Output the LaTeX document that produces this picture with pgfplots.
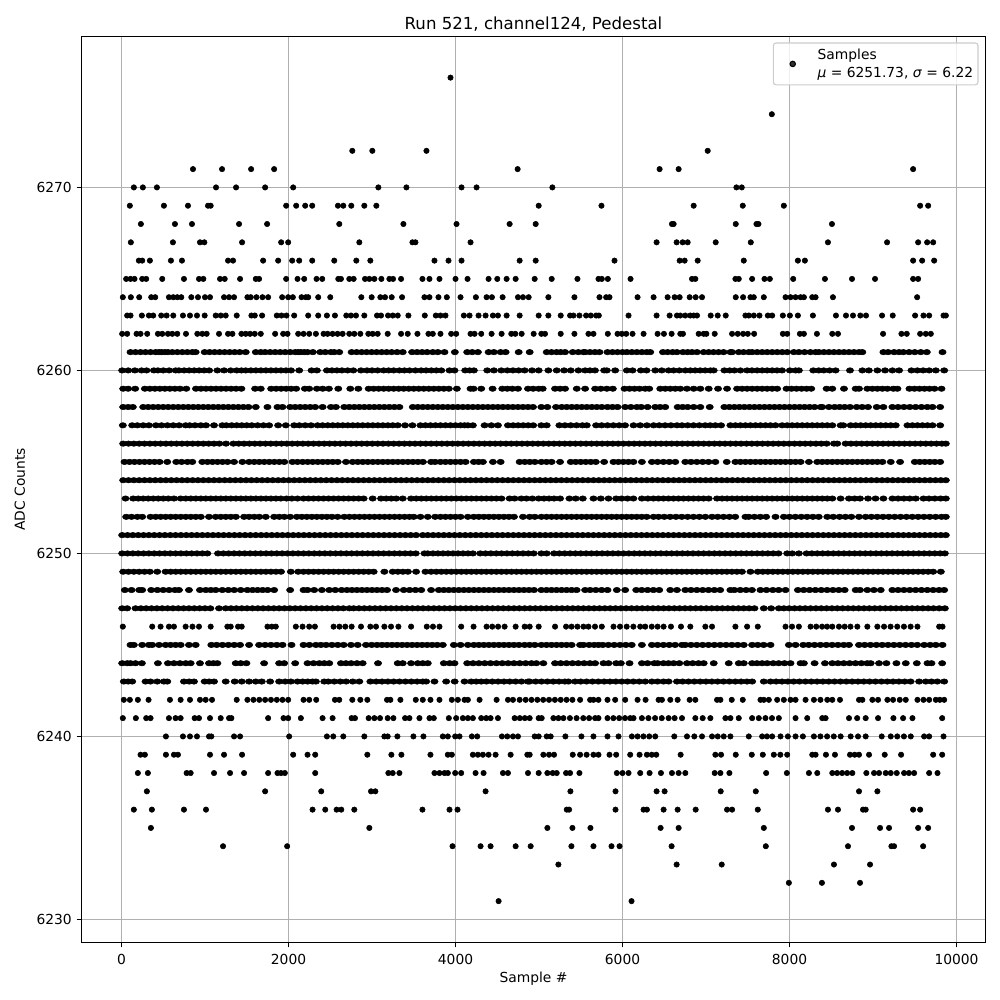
\documentclass[border=0pt]{standalone}
\usepackage{fontspec}
\setmainfont{DejaVu Sans}
\usepackage{pgfplots}
\pgfplotsset{compat=1.18}
\begin{document}
\begin{tikzpicture}
  \path[use as bounding box] (-58.9pt,-41.56pt) rectangle (663.77pt,681.14pt);
  \begin{axis}[
    at={(0pt,0pt)}, anchor=south west,
    scale only axis,
    width=653.33pt,
    height=654.8pt,
    xmin=-479, xmax=10347,
    ymin=6228.74, ymax=6278.25,
    xtick={0,2000,4000,6000,8000,10000},
    ytick={6230,6240,6250,6260,6270},
    scaled ticks=false,
    /pgf/number format/1000 sep={},
    /pgf/number format/assume math mode=true,
    grid=major,
    grid style={color=black!31, line width=0.8pt},
    axis line style={line width=0.8pt},
    tick style={color=black, line width=0.8pt},
    tick align=outside,
    major tick length=3.5pt,
    tick pos=lower,
    ticklabel style={font=\fontsize{10}{12}\selectfont},
    xticklabel style={yshift=-1.4pt},
    label style={font=\fontsize{10}{12}\selectfont},
    xlabel style={yshift=1.4pt},
    ylabel style={yshift=1.5pt},
    xlabel={Sample \#},
    ylabel={ADC Counts},
    title={Run 521, channel124, Pedestal},
    title style={font=\fontsize{12}{14}\selectfont, yshift=-5.8pt},
    legend cell align=left,
    legend image code/.code={
      \path[draw=none] (-12.5pt,0pt) -- (16pt,0pt);
      \draw[#1, only marks, mark repeat=1, mark phase=1] plot coordinates {(0pt,0pt)};
    },
    legend style={at={(0.9923,0.9934)}, anchor=north east, draw=black!20, line width=0.8pt,
      rounded corners=2pt, fill=white, fill opacity=0.8, text opacity=1,
      font=\fontsize{10}{12}\selectfont, inner xsep=1.5pt, inner ysep=1.9pt},
  ]
    % sparse levels, one group per ADC level
    \addplot[only marks, mark=*, mark size=1.95pt, mark options={fill=black, draw=none}] coordinates {
      (3940,6276) (7788,6274)
      (2764,6272)(3004,6272)(3652,6272)(7020,6272)
      (856,6271)(1204,6271)(1552,6271)(1828,6271)(4744,6271)(6444,6271)(6672,6271)(9480,6271)
      (148,6270)(256,6270)(424,6270)(1132,6270)(1372,6270)(1720,6270)(2056,6270)(3076,6270)(3412,6270)(4072,6270)(4252,6270)(5160,6270)(7364,6270)(7428,6270)
      (100,6269)(508,6269)(796,6269)(1036,6269)(1068,6269)(1972,6269)(2092,6269)(2200,6269)(2284,6269)(2592,6269)(2656,6269)(2752,6269)(2908,6269)(3052,6269)(4996,6269)(5748,6269)(6852,6269)(7440,6269)(7932,6269)(9564,6269)(9660,6269)
      (232,6268)(640,6268)(844,6268)(1408,6268)(1744,6268)(2608,6268)(3376,6268)(4012,6268)(4648,6268)(4960,6268)(6592,6268)(6612,6268)(7356,6268)(7604,6268)(7628,6268)(8508,6268)
      (112,6267)(616,6267)(940,6267)(992,6267)(1444,6267)(1912,6267)(1996,6267)(2848,6267)(3484,6267)(3520,6267)(4180,6267)(6408,6267)(6648,6267)(6720,6267)(6780,6267)(7116,6267)(7536,6267)(8460,6267)(9168,6267)(9540,6267)(9648,6267)(9720,6267)
      (208,6266)(248,6266)(340,6266)(592,6266)(724,6266)(1276,6266)(1336,6266)(1696,6266)(1876,6266)(2044,6266)(2128,6266)(2284,6266)(2548,6266)(2812,6266)(2980,6266)(3748,6266)(3916,6266)(4072,6266)(4768,6266)(4960,6266)(5904,6266)(6684,6266)(6744,6266)(6900,6266)(7452,6266)(8100,6266)(8184,6266)(9480,6266)(9588,6266)(9732,6266)
      (56,6265)(108,6265)(156,6265)(248,6265)(296,6265)(488,6265)(748,6265)(928,6265)(980,6265)(1180,6265)(1236,6265)(1420,6265)(1608,6265)(1648,6265)(1972,6265)(2108,6265)(2188,6265)(2336,6265)(2404,6265)(2596,6265)(2628,6265)(2728,6265)(2780,6265)(2916,6265)(2968,6265)(3028,6265)(3112,6265)(3208,6265)(3252,6265)(3348,6265)(3604,6265)(3688,6265)(3808,6265)(4000,6265)(4144,6265)(4396,6265)(4500,6265)(4612,6265)(4720,6265)(4948,6265)(5152,6265)(5460,6265)(5712,6265)(5752,6265)(5824,6265)(6096,6265)(6832,6265)(6872,6265)(7352,6265)(7392,6265)(7552,6265)(7700,6265)(7764,6265)(8044,6265)(8424,6265)(8748,6265)(9024,6265)(9480,6265)(9540,6265)
      (16,6264)(112,6264)(212,6264)(356,6264)(404,6264)(568,6264)(620,6264)(668,6264)(716,6264)(836,6264)(916,6264)(1000,6264)(1060,6264)(1228,6264)(1288,6264)(1348,6264)(1508,6264)(1548,6264)(1616,6264)(1688,6264)(1756,6264)(1924,6264)(1996,6264)(2052,6264)(2156,6264)(2208,6264)(2236,6264)(2356,6264)(2500,6264)(2872,6264)(2996,6264)(3100,6264)(3156,6264)(3236,6264)(3360,6264)(3628,6264)(3688,6264)(3796,6264)(3896,6264)(4060,6264)(4244,6264)(4372,6264)(4436,6264)(4564,6264)(4748,6264)(4808,6264)(4876,6264)(5112,6264)(5424,6264)(5724,6264)(5804,6264)(5844,6264)(6180,6264)(6372,6264)(6540,6264)(6624,6264)(6684,6264)(6804,6264)(6876,6264)(6952,6264)(7356,6264)(7444,6264)(7532,6264)(7572,6264)(7692,6264)(7952,6264)(8012,6264)(8072,6264)(8132,6264)(8172,6264)(8272,6264)(8312,6264)(8520,6264)(9528,6264)
      (68,6263)(108,6263)(244,6263)(328,6263)(380,6263)(476,6263)(540,6263)(620,6263)(736,6263)(820,6263)(904,6263)(996,6263)(1128,6263)(1188,6263)(1248,6263)(1380,6263)(1556,6263)(1596,6263)(1684,6263)(1860,6263)(1916,6263)(1976,6263)(2068,6263)(2236,6263)(2356,6263)(2460,6263)(2556,6263)(2692,6263)(2748,6263)(2808,6263)(2908,6263)(3060,6263)(3108,6263)(3192,6263)(3248,6263)(3308,6263)(3436,6263)(3632,6263)(3764,6263)(3820,6263)(3880,6263)(4100,6263)(4168,6263)(4276,6263)(4360,6263)(4448,6263)(4508,6263)(4612,6263)(4768,6263)(4996,6263)(5112,6263)(5260,6263)(5372,6263)(5412,6263)(5484,6263)(5564,6263)(5620,6263)(5684,6263)(5716,6263)(6072,6263)(6408,6263)(6564,6263)(6652,6263)(6692,6263)(6752,6263)(6812,6263)(6852,6263)(6892,6263)(7056,6263)(7140,6263)(7236,6263)(7472,6263)(7512,6263)(7572,6263)(7640,6263)(7740,6263)(7792,6263)(7920,6263)(8004,6263)(8100,6263)(8280,6263)(8556,6263)(8676,6263)(8760,6263)(8848,6263)(8916,6263)(9108,6263)(9236,6263)(9504,6263)(9604,6263)(9672,6263)(9844,6263)(9872,6263)
      (8,6262)(68,6262)(180,6262)(228,6262)(308,6262)(436,6262)(488,6262)(556,6262)(608,6262)(668,6262)(772,6262)(908,6262)(968,6262)(1020,6262)(1168,6262)(1276,6262)(1328,6262)(1436,6262)(1488,6262)(1540,6262)(1596,6262)(1668,6262)(1840,6262)(1936,6262)(1988,6262)(2116,6262)(2180,6262)(2248,6262)(2328,6262)(2420,6262)(2468,6262)(2528,6262)(2588,6262)(2648,6262)(2728,6262)(2788,6262)(2860,6262)(2956,6262)(3008,6262)(3068,6262)(3188,6262)(3348,6262)(3428,6262)(3544,6262)(3676,6262)(3728,6262)(3820,6262)(3948,6262)(4008,6262)(4180,6262)(4228,6262)(4308,6262)(4432,6262)(4552,6262)(4668,6262)(4716,6262)(4792,6262)(4936,6262)(5028,6262)(5072,6262)(5260,6262)(5424,6262)(5592,6262)(5652,6262)(5824,6262)(5940,6262)(5992,6262)(6044,6262)(6120,6262)(6252,6262)(6420,6262)(6496,6262)(6588,6262)(6692,6262)(6724,6262)(6912,6262)(6972,6262)(7004,6262)(7104,6262)(7312,6262)(7380,6262)(7444,6262)(7500,6262)(7576,6262)(7920,6262)(7972,6262)(8124,6262)(8172,6262)(8328,6262)(8512,6262)(8580,6262)(9120,6262)(9340,6262)(9404,6262)(9564,6262)(9632,6262)(9692,6262)
      (16,6246)(368,6246)(468,6246)(568,6246)(628,6246)(768,6246)(850,6246)(928,6246)(1068,6246)(1268,6246)(1308,6246)(1396,6246)(1440,6246)(1748,6246)(1800,6246)(1848,6246)(2088,6246)(2168,6246)(2248,6246)(2316,6246)(2540,6246)(2610,6246)(2680,6246)(2756,6246)(2868,6246)(2980,6246)(3048,6246)(3148,6246)(3228,6246)(3316,6246)(3468,6246)(3656,6246)(3730,6246)(3808,6246)(4068,6246)(4216,6246)(4372,6246)(4440,6246)(4510,6246)(4588,6246)(4720,6246)(4828,6246)(4888,6246)(4996,6246)(5192,6246)(5324,6246)(5390,6246)(5460,6246)(5532,6246)(5592,6246)(5670,6246)(5752,6246)(5892,6246)(5970,6246)(6050,6246)(6130,6246)(6212,6246)(6272,6246)(6350,6246)(6420,6246)(6492,6246)(6580,6246)(6700,6246)(6812,6246)(6992,6246)(7072,6246)(7352,6246)(7492,6246)(7620,6246)(7952,6246)(8030,6246)(8112,6246)(8252,6246)(8320,6246)(8390,6246)(8450,6246)(8512,6246)(8592,6246)(8660,6246)(8730,6246)(8812,6246)(8932,6246)(9052,6246)(9132,6246)(9210,6246)(9290,6246)(9370,6246)(9450,6246)(9532,6246)(9792,6246)(9832,6246)
      (28,6242)(100,6242)(196,6242)(324,6242)(580,6242)(708,6242)(820,6242)(940,6242)(1008,6242)(1084,6242)(1380,6242)(1508,6242)(1580,6242)(1650,6242)(1720,6242)(1790,6242)(1860,6242)(1928,6242)(1996,6242)(2180,6242)(2248,6242)(2332,6242)(2556,6242)(2608,6242)(2764,6242)(2860,6242)(2944,6242)(3180,6242)(3220,6242)(3340,6242)(3524,6242)(3608,6242)(3700,6242)(3808,6242)(3956,6242)(4028,6242)(4108,6242)(4148,6242)(4288,6242)(4492,6242)(4628,6242)(4688,6242)(4768,6242)(4840,6242)(4910,6242)(4980,6242)(5050,6242)(5120,6242)(5190,6242)(5260,6242)(5330,6242)(5400,6242)(5492,6242)(5612,6242)(5652,6242)(5712,6242)(5820,6242)(5912,6242)(6032,6242)(6180,6242)(6276,6242)(6432,6242)(6472,6242)(6572,6242)(6660,6242)(6804,6242)(6872,6242)(7132,6242)(7172,6242)(7308,6242)(7440,6242)(7652,6242)(7692,6242)(7752,6242)(7852,6242)(7932,6242)(8012,6242)(8072,6242)(8192,6242)(8292,6242)(8370,6242)(8452,6242)(8512,6242)(8604,6242)(8832,6242)(8872,6242)(8992,6242)(9060,6242)(9172,6242)(9240,6242)(9320,6242)(9392,6242)(9532,6242)(9604,6242)(9672,6242)(9752,6242)(9800,6242)(9852,6242)
      (16,6241)(172,6241)(296,6241)(348,6241)(568,6241)(648,6241)(708,6241)(876,6241)(928,6241)(1060,6241)(1188,6241)(1288,6241)(1316,6241)(1756,6241)(1940,6241)(1996,6241)(2148,6241)(2408,6241)(2528,6241)(2756,6241)(2796,6241)(2960,6241)(3028,6241)(3096,6241)(3188,6241)(3256,6241)(3396,6241)(3448,6241)(3568,6241)(3688,6241)(3740,6241)(3920,6241)(4008,6241)(4088,6241)(4148,6241)(4208,6241)(4308,6241)(4368,6241)(4420,6241)(4508,6241)(4708,6241)(4770,6241)(4830,6241)(4888,6241)(4996,6241)(5032,6241)(5172,6241)(5232,6241)(5292,6241)(5370,6241)(5450,6241)(5530,6241)(5600,6241)(5672,6241)(5712,6241)(5820,6241)(5890,6241)(5960,6241)(6030,6241)(6092,6241)(6132,6241)(6232,6241)(6310,6241)(6390,6241)(6470,6241)(6552,6241)(6624,6241)(6712,6241)(6872,6241)(6960,6241)(7052,6241)(7232,6241)(7292,6241)(7392,6241)(7552,6241)(7632,6241)(7712,6241)(7790,6241)(7872,6241)(8072,6241)(8212,6241)(8392,6241)(8432,6241)(8712,6241)(8810,6241)(8912,6241)(9060,6241)(9244,6241)(9360,6241)(9472,6241)(9828,6241)
      (532,6240)(736,6240)(820,6240)(904,6240)(1048,6240)(1076,6240)(1348,6240)(1420,6240)(2008,6240)(2460,6240)(2536,6240)(2656,6240)(2908,6240)(3148,6240)(3188,6240)(3304,6240)(3496,6240)(3616,6240)(3848,6240)(3908,6240)(3996,6240)(4048,6240)(4196,6240)(4260,6240)(4556,6240)(4620,6240)(4688,6240)(4748,6240)(4948,6240)(4996,6240)(5092,6240)(5140,6240)(5316,6240)(5508,6240)(5652,6240)(5820,6240)(5952,6240)(6112,6240)(6180,6240)(6250,6240)(6320,6240)(6392,6240)(6620,6240)(6772,6240)(6860,6240)(6952,6240)(7072,6240)(7140,6240)(7212,6240)(7292,6240)(7512,6240)(7672,6240)(7730,6240)(7792,6240)(7892,6240)(7980,6240)(8072,6240)(8160,6240)(8292,6240)(8370,6240)(8450,6240)(8530,6240)(8612,6240)(8732,6240)(8820,6240)(8912,6240)(9104,6240)(9212,6240)(9290,6240)(9370,6240)(9452,6240)(9612,6240)(9672,6240)(9844,6240)
      (228,6239)(280,6239)(532,6239)(628,6239)(676,6239)(1060,6239)(1228,6239)(1444,6239)(2056,6239)(2228,6239)(2320,6239)(2944,6239)(3232,6239)(3352,6239)(3700,6239)(3908,6239)(3956,6239)(4208,6239)(4268,6239)(4328,6239)(4396,6239)(4480,6239)(4660,6239)(4860,6239)(4888,6239)(5052,6239)(5120,6239)(5180,6239)(5404,6239)(5492,6239)(5570,6239)(5652,6239)(5712,6239)(5844,6239)(5924,6239)(6092,6239)(6204,6239)(6292,6239)(6350,6239)(6404,6239)(6696,6239)(7112,6239)(7180,6239)(7356,6239)(7548,6239)(7680,6239)(7812,6239)(7890,6239)(7972,6239)(8272,6239)(8312,6239)(8436,6239)(8544,6239)(8724,6239)(8780,6239)(8832,6239)(8952,6239)(9140,6239)(9336,6239)(9720,6239)(9828,6239)
      (196,6238)(316,6238)(780,6238)(828,6238)(1108,6238)(1300,6238)(1468,6238)(1756,6238)(1868,6238)(1910,6238)(1956,6238)(2320,6238)(3196,6238)(3248,6238)(3328,6238)(3748,6238)(3808,6238)(3868,6238)(3908,6238)(3996,6238)(4068,6238)(4240,6238)(4336,6238)(4568,6238)(4628,6238)(4868,6238)(4996,6238)(5100,6238)(5164,6238)(5212,6238)(5324,6238)(5372,6238)(5484,6238)(5932,6238)(6000,6238)(6072,6238)(6212,6238)(6324,6238)(6460,6238)(6592,6238)(6672,6238)(6752,6238)(7104,6238)(7172,6238)(7280,6238)(7720,6238)(7968,6238)(8232,6238)(8332,6238)(8512,6238)(8570,6238)(8630,6238)(8690,6238)(8752,6238)(8920,6238)(9012,6238)(9072,6238)(9152,6238)(9212,6238)(9284,6238)(9372,6238)(9430,6238)(9492,6238)(9672,6238)(9772,6238)
      (304,6237)(1720,6237)(2392,6237)(2988,6237)(3040,6237)(4360,6237)(5376,6237)(5916,6237)(6408,6237)(6504,6237)(7176,6237)(7596,6237)(8832,6237)(9052,6237)
      (148,6236)(364,6236)(748,6236)(1012,6236)(2288,6236)(2440,6236)(2576,6236)(2632,6236)(2788,6236)(3604,6236)(3928,6236)(4024,6236)(5332,6236)(5360,6236)(5916,6236)(6252,6236)(6292,6236)(6492,6236)(6660,6236)(6876,6236)(7252,6236)(7312,6236)(7620,6236)(8460,6236)(8580,6236)(8880,6236)(8912,6236)(9480,6236)(9564,6236)
      (352,6235)(2968,6235)(5100,6235)(5400,6235)(5616,6235)(6456,6235)(6672,6235)(7692,6235)(8748,6235)(9084,6235)(9192,6235)(9540,6235)(9660,6235)
      (1216,6234)(1984,6234)(3964,6234)(4300,6234)(4420,6234)(4720,6234)(4900,6234)(5388,6234)(5652,6234)(5868,6234)(5964,6234)(6588,6234)(7716,6234)(8700,6234)(9220,6234)(9252,6234)(9600,6234)
      (5232,6233)(6648,6233)(7188,6233)(8532,6233)(8964,6233)
      (7992,6232)(8388,6232)(8844,6232)
      (4516,6231)(6108,6231)
    };
    \addlegendentry{\begin{tabular}{@{}l@{}}Samples\\[0.6pt]\textit{μ} = 6251.73, \textit{σ} = 6.22\\[-3.5pt]\rule{0pt}{12.3pt}\end{tabular}}
    % dense levels, the dots run together into bars here
    \addplot[forget plot, only marks, mark=*, mark size=1.95pt, mark options={fill=black, draw=none, xscale=1.35}] coordinates {
      (108,6261)(168,6261)(228,6261)(288,6261)(348,6261)(408,6261)(448,6261)(480,6261)(520,6261)(556,6261)(608,6261)(668,6261)(728,6261)(788,6261)(848,6261)(888,6261)(996,6261)(1056,6261)(1116,6261)(1176,6261)(1236,6261)(1296,6261)(1356,6261)(1416,6261)(1488,6261)(1608,6261)(1668,6261)(1720,6261)(1780,6261)(1840,6261)(1900,6261)(1960,6261)(2020,6261)(2080,6261)(2116,6261)(2148,6261)(2188,6261)(2228,6261)(2292,6261)(2380,6261)(2440,6261)(2508,6261)(2548,6261)(2608,6261)(2756,6261)(2816,6261)(2876,6261)(2936,6261)(2996,6261)(3056,6261)(3116,6261)(3176,6261)(3236,6261)(3300,6261)(3368,6261)(3480,6261)(3540,6261)(3600,6261)(3660,6261)(3728,6261)(3788,6261)(3868,6261)(3992,6261)(4140,6261)(4200,6261)(4268,6261)(4396,6261)(4460,6261)(4540,6261)(4600,6261)(4756,6261)(4888,6261)(5092,6261)(5150,6261)(5210,6261)(5260,6261)(5312,6261)(5404,6261)(5470,6261)(5532,6261)(5552,6261)(5610,6261)(5670,6261)(5724,6261)(5820,6261)(5880,6261)(5940,6261)(6000,6261)(6052,6261)(6112,6261)(6172,6261)(6232,6261)(6290,6261)(6332,6261)(6484,6261)(6540,6261)(6600,6261)(6652,6261)(6724,6261)(6780,6261)(6832,6261)(6892,6261)(6972,6261)(7032,6261)(7090,6261)(7150,6261)(7210,6261)(7292,6261)(7312,6261)(7392,6261)(7450,6261)(7512,6261)(7552,6261)(7612,6261)(7672,6261)(7732,6261)(7792,6261)(7852,6261)(7912,6261)(7972,6261)(8052,6261)(8112,6261)(8180,6261)(8250,6261)(8312,6261)(8352,6261)(8412,6261)(8472,6261)(8532,6261)(8592,6261)(8652,6261)(8712,6261)(8772,6261)(8832,6261)(8872,6261)(9124,6261)(9180,6261)(9252,6261)(9312,6261)(9364,6261)(9432,6261)(9500,6261)(9572,6261)(9644,6261)(9832,6261)
      (8,6260)(80,6260)(160,6260)(240,6260)(300,6260)(388,6260)(436,6260)(500,6260)(570,6260)(648,6260)(688,6260)(750,6260)(810,6260)(870,6260)(930,6260)(990,6260)(1050,6260)(1148,6260)(1228,6260)(1308,6260)(1380,6260)(1436,6260)(1488,6260)(1550,6260)(1610,6260)(1670,6260)(1730,6260)(1790,6260)(1850,6260)(1910,6260)(1970,6260)(2030,6260)(2128,6260)(2276,6260)(2340,6260)(2460,6260)(2520,6260)(2580,6260)(2640,6260)(2708,6260)(2776,6260)(2868,6260)(2940,6260)(3000,6260)(3068,6260)(3140,6260)(3200,6260)(3260,6260)(3328,6260)(3388,6260)(3450,6260)(3520,6260)(3588,6260)(3648,6260)(3710,6260)(3770,6260)(3830,6260)(3928,6260)(3988,6260)(4116,6260)(4170,6260)(4220,6260)(4380,6260)(4460,6260)(4548,6260)(4620,6260)(4688,6260)(4756,6260)(4828,6260)(4916,6260)(4996,6260)(5112,6260)(5212,6260)(5300,6260)(5380,6260)(5472,6260)(5552,6260)(5610,6260)(5670,6260)(5780,6260)(5812,6260)(5912,6260)(6052,6260)(6120,6260)(6220,6260)(6288,6260)(6392,6260)(6470,6260)(6552,6260)(6612,6260)(6680,6260)(6752,6260)(6812,6260)(6870,6260)(6930,6260)(6990,6260)(7052,6260)(7092,6260)(7220,6260)(7284,6260)(7340,6260)(7412,6260)(7492,6260)(7550,6260)(7612,6260)(7672,6260)(7732,6260)(7792,6260)(7850,6260)(7910,6260)(8004,6260)(8072,6260)(8112,6260)(8284,6260)(8350,6260)(8410,6260)(8480,6260)(8552,6260)(8724,6260)(8872,6260)(8950,6260)(9052,6260)(9144,6260)(9232,6260)(9312,6260)(9460,6260)(9530,6260)(9600,6260)(9672,6260)(9752,6260)(9852,6260)
      (20,6259)(80,6259)(164,6259)(280,6259)(340,6259)(400,6259)(460,6259)(520,6259)(580,6259)(640,6259)(700,6259)(776,6259)(892,6259)(952,6259)(1012,6259)(1072,6259)(1132,6259)(1192,6259)(1252,6259)(1312,6259)(1372,6259)(1436,6259)(1600,6259)(1668,6259)(1792,6259)(1852,6259)(1912,6259)(1972,6259)(2032,6259)(2092,6259)(2196,6259)(2248,6259)(2340,6259)(2410,6259)(2484,6259)(2596,6259)(2740,6259)(2836,6259)(2960,6259)(3020,6259)(3080,6259)(3140,6259)(3200,6259)(3260,6259)(3320,6259)(3380,6259)(3440,6259)(3500,6259)(3560,6259)(3620,6259)(3680,6259)(3740,6259)(3800,6259)(3860,6259)(3920,6259)(4016,6259)(4180,6259)(4216,6259)(4308,6259)(4444,6259)(4560,6259)(4620,6259)(4680,6259)(4748,6259)(4868,6259)(4930,6259)(4996,6259)(5044,6259)(5192,6259)(5252,6259)(5312,6259)(5452,6259)(5552,6259)(5672,6259)(5740,6259)(5812,6259)(5884,6259)(6024,6259)(6084,6259)(6144,6259)(6204,6259)(6272,6259)(6320,6259)(6452,6259)(6512,6259)(6572,6259)(6632,6259)(6692,6259)(6772,6259)(6852,6259)(6932,6259)(7032,6259)(7144,6259)(7252,6259)(7372,6259)(7432,6259)(7492,6259)(7552,6259)(7612,6259)(7672,6259)(7732,6259)(7792,6259)(7852,6259)(7964,6259)(8024,6259)(8084,6259)(8144,6259)(8204,6259)(8260,6259)(8444,6259)(8512,6259)(8652,6259)(8792,6259)(8832,6259)(8932,6259)(8992,6259)(9052,6259)(9112,6259)(9172,6259)(9244,6259)(9292,6259)(9436,6259)(9496,6259)(9556,6259)(9616,6259)(9676,6259)(9736,6259)(9820,6259)
      (20,6258)(80,6258)(136,6258)(260,6258)(320,6258)(380,6258)(440,6258)(500,6258)(560,6258)(620,6258)(680,6258)(740,6258)(800,6258)(860,6258)(920,6258)(980,6258)(1040,6258)(1100,6258)(1160,6258)(1220,6258)(1280,6258)(1340,6258)(1400,6258)(1460,6258)(1520,6258)(1608,6258)(1748,6258)(1868,6258)(1928,6258)(2020,6258)(2080,6258)(2140,6258)(2200,6258)(2260,6258)(2320,6258)(2408,6258)(2508,6258)(2568,6258)(2668,6258)(2728,6258)(2788,6258)(2848,6258)(2908,6258)(2968,6258)(3028,6258)(3088,6258)(3148,6258)(3208,6258)(3268,6258)(3328,6258)(3488,6258)(3548,6258)(3608,6258)(3668,6258)(3728,6258)(3788,6258)(3848,6258)(3908,6258)(3968,6258)(4028,6258)(4088,6258)(4148,6258)(4208,6258)(4268,6258)(4328,6258)(4388,6258)(4448,6258)(4508,6258)(4568,6258)(4628,6258)(4688,6258)(4748,6258)(4808,6258)(4868,6258)(4928,6258)(5028,6258)(5100,6258)(5204,6258)(5272,6258)(5332,6258)(5392,6258)(5452,6258)(5512,6258)(5572,6258)(5632,6258)(5692,6258)(5752,6258)(5820,6258)(5880,6258)(5940,6258)(6032,6258)(6100,6258)(6172,6258)(6224,6258)(6300,6258)(6392,6258)(6450,6258)(6512,6258)(6660,6258)(6720,6258)(6780,6258)(6852,6258)(6932,6258)(7044,6258)(7220,6258)(7280,6258)(7340,6258)(7400,6258)(7460,6258)(7520,6258)(7580,6258)(7640,6258)(7700,6258)(7760,6258)(7820,6258)(7880,6258)(7940,6258)(8000,6258)(8060,6258)(8120,6258)(8180,6258)(8240,6258)(8300,6258)(8372,6258)(8392,6258)(8472,6258)(8540,6258)(8600,6258)(8660,6258)(8724,6258)(8804,6258)(8870,6258)(8940,6258)(9044,6258)(9124,6258)(9232,6258)(9300,6258)(9370,6258)(9440,6258)(9510,6258)(9580,6258)(9650,6258)(9712,6258)(9804,6258)
      (16,6257)(128,6257)(190,6257)(260,6257)(328,6257)(412,6257)(480,6257)(550,6257)(620,6257)(690,6257)(768,6257)(816,6257)(880,6257)(950,6257)(1012,6257)(1108,6257)(1208,6257)(1256,6257)(1320,6257)(1380,6257)(1440,6257)(1500,6257)(1560,6257)(1630,6257)(1700,6257)(1768,6257)(1876,6257)(1968,6257)(2068,6257)(2130,6257)(2200,6257)(2270,6257)(2348,6257)(2408,6257)(2470,6257)(2530,6257)(2590,6257)(2650,6257)(2710,6257)(2770,6257)(2828,6257)(2888,6257)(2950,6257)(3010,6257)(3070,6257)(3130,6257)(3190,6257)(3248,6257)(3308,6257)(3396,6257)(3484,6257)(3580,6257)(3640,6257)(3700,6257)(3760,6257)(3820,6257)(3880,6257)(3940,6257)(4000,6257)(4060,6257)(4108,6257)(4148,6257)(4208,6257)(4348,6257)(4430,6257)(4508,6257)(4628,6257)(4690,6257)(4750,6257)(4810,6257)(4870,6257)(4930,6257)(5028,6257)(5092,6257)(5244,6257)(5310,6257)(5380,6257)(5450,6257)(5520,6257)(5572,6257)(5684,6257)(5750,6257)(5820,6257)(5890,6257)(5960,6257)(6030,6257)(6132,6257)(6212,6257)(6292,6257)(6372,6257)(6440,6257)(6510,6257)(6580,6257)(6652,6257)(6712,6257)(6780,6257)(6850,6257)(6920,6257)(6990,6257)(7050,6257)(7112,6257)(7180,6257)(7292,6257)(7352,6257)(7412,6257)(7472,6257)(7532,6257)(7592,6257)(7652,6257)(7712,6257)(7772,6257)(7832,6257)(7912,6257)(7972,6257)(8032,6257)(8092,6257)(8152,6257)(8212,6257)(8272,6257)(8332,6257)(8392,6257)(8452,6257)(8512,6257)(8612,6257)(8644,6257)(8732,6257)(8792,6257)(8852,6257)(8912,6257)(8972,6257)(9032,6257)(9092,6257)(9152,6257)(9212,6257)(9272,6257)(9412,6257)(9472,6257)(9532,6257)(9592,6257)(9652,6257)(9712,6257)(9804,6257)
      (20,6256)(84,6256)(148,6256)(212,6256)(276,6256)(340,6256)(404,6256)(468,6256)(532,6256)(596,6256)(660,6256)(724,6256)(788,6256)(852,6256)(916,6256)(980,6256)(1044,6256)(1108,6256)(1172,6256)(1252,6256)(1340,6256)(1404,6256)(1468,6256)(1532,6256)(1596,6256)(1660,6256)(1724,6256)(1788,6256)(1852,6256)(1916,6256)(1980,6256)(2044,6256)(2108,6256)(2172,6256)(2236,6256)(2300,6256)(2364,6256)(2428,6256)(2492,6256)(2556,6256)(2620,6256)(2684,6256)(2748,6256)(2812,6256)(2876,6256)(2940,6256)(3004,6256)(3068,6256)(3132,6256)(3196,6256)(3260,6256)(3324,6256)(3388,6256)(3452,6256)(3516,6256)(3580,6256)(3644,6256)(3708,6256)(3772,6256)(3836,6256)(3900,6256)(3964,6256)(4028,6256)(4092,6256)(4156,6256)(4220,6256)(4284,6256)(4348,6256)(4412,6256)(4476,6256)(4540,6256)(4604,6256)(4668,6256)(4732,6256)(4796,6256)(4860,6256)(4924,6256)(4988,6256)(5052,6256)(5116,6256)(5180,6256)(5244,6256)(5308,6256)(5372,6256)(5436,6256)(5500,6256)(5564,6256)(5628,6256)(5692,6256)(5756,6256)(5820,6256)(5884,6256)(5948,6256)(6012,6256)(6076,6256)(6140,6256)(6204,6256)(6268,6256)(6332,6256)(6396,6256)(6460,6256)(6524,6256)(6588,6256)(6652,6256)(6716,6256)(6780,6256)(6844,6256)(6908,6256)(6972,6256)(7036,6256)(7100,6256)(7164,6256)(7228,6256)(7292,6256)(7356,6256)(7420,6256)(7484,6256)(7548,6256)(7612,6256)(7676,6256)(7740,6256)(7804,6256)(7868,6256)(7932,6256)(7996,6256)(8060,6256)(8124,6256)(8188,6256)(8252,6256)(8316,6256)(8380,6256)(8444,6256)(8532,6256)(8572,6256)(8672,6256)(8736,6256)(8800,6256)(8864,6256)(8928,6256)(8992,6256)(9056,6256)(9120,6256)(9184,6256)(9248,6256)(9312,6256)(9376,6256)(9440,6256)(9504,6256)(9568,6256)(9632,6256)(9696,6256)(9760,6256)(9824,6256)(9872,6256)
      (36,6255)(96,6255)(156,6255)(216,6255)(276,6255)(336,6255)(396,6255)(456,6255)(548,6255)(656,6255)(720,6255)(790,6255)(848,6255)(968,6255)(1030,6255)(1090,6255)(1150,6255)(1210,6255)(1270,6255)(1348,6255)(1448,6255)(1528,6255)(1590,6255)(1650,6255)(1710,6255)(1770,6255)(1830,6255)(1890,6255)(1950,6255)(2048,6255)(2108,6255)(2170,6255)(2230,6255)(2290,6255)(2350,6255)(2410,6255)(2470,6255)(2530,6255)(2590,6255)(2688,6255)(2768,6255)(2830,6255)(2890,6255)(2950,6255)(3010,6255)(3070,6255)(3130,6255)(3190,6255)(3250,6255)(3310,6255)(3370,6255)(3430,6255)(3490,6255)(3550,6255)(3610,6255)(3708,6255)(3756,6255)(3820,6255)(3880,6255)(3940,6255)(4000,6255)(4060,6255)(4120,6255)(4220,6255)(4276,6255)(4328,6255)(4448,6255)(4540,6255)(4768,6255)(4830,6255)(4890,6255)(4950,6255)(5028,6255)(5090,6255)(5150,6255)(5252,6255)(5380,6255)(5440,6255)(5500,6255)(5560,6255)(5620,6255)(5680,6255)(5780,6255)(5892,6255)(5950,6255)(6010,6255)(6070,6255)(6130,6255)(6232,6255)(6352,6255)(6420,6255)(6490,6255)(6560,6255)(6632,6255)(6752,6255)(6820,6255)(6890,6255)(6960,6255)(7030,6255)(7112,6255)(7248,6255)(7352,6255)(7412,6255)(7472,6255)(7532,6255)(7592,6255)(7652,6255)(7712,6255)(7772,6255)(7832,6255)(7892,6255)(7952,6255)(8012,6255)(8072,6255)(8132,6255)(8232,6255)(8332,6255)(8392,6255)(8452,6255)(8512,6255)(8572,6255)(8632,6255)(8692,6255)(8752,6255)(8812,6255)(8872,6255)(8932,6255)(8992,6255)(9052,6255)(9112,6255)(9212,6255)(9324,6255)(9500,6255)(9560,6255)(9620,6255)(9680,6255)(9740,6255)(9804,6255)
      (20,6254)(84,6254)(148,6254)(212,6254)(276,6254)(340,6254)(404,6254)(468,6254)(532,6254)(596,6254)(660,6254)(724,6254)(788,6254)(852,6254)(916,6254)(980,6254)(1044,6254)(1108,6254)(1172,6254)(1236,6254)(1300,6254)(1364,6254)(1428,6254)(1492,6254)(1556,6254)(1620,6254)(1684,6254)(1748,6254)(1812,6254)(1876,6254)(1940,6254)(2004,6254)(2068,6254)(2132,6254)(2196,6254)(2260,6254)(2324,6254)(2388,6254)(2452,6254)(2516,6254)(2580,6254)(2644,6254)(2708,6254)(2772,6254)(2836,6254)(2900,6254)(2964,6254)(3028,6254)(3092,6254)(3156,6254)(3220,6254)(3284,6254)(3348,6254)(3412,6254)(3476,6254)(3540,6254)(3604,6254)(3668,6254)(3732,6254)(3796,6254)(3860,6254)(3924,6254)(3988,6254)(4052,6254)(4116,6254)(4180,6254)(4244,6254)(4308,6254)(4372,6254)(4436,6254)(4500,6254)(4564,6254)(4628,6254)(4692,6254)(4756,6254)(4820,6254)(4884,6254)(4948,6254)(5012,6254)(5076,6254)(5140,6254)(5204,6254)(5268,6254)(5332,6254)(5396,6254)(5460,6254)(5524,6254)(5588,6254)(5652,6254)(5716,6254)(5780,6254)(5844,6254)(5908,6254)(5972,6254)(6036,6254)(6100,6254)(6164,6254)(6228,6254)(6292,6254)(6356,6254)(6420,6254)(6484,6254)(6548,6254)(6612,6254)(6676,6254)(6740,6254)(6804,6254)(6868,6254)(6932,6254)(6996,6254)(7060,6254)(7124,6254)(7188,6254)(7252,6254)(7316,6254)(7380,6254)(7444,6254)(7508,6254)(7572,6254)(7636,6254)(7700,6254)(7764,6254)(7828,6254)(7892,6254)(7956,6254)(8020,6254)(8084,6254)(8148,6254)(8212,6254)(8276,6254)(8340,6254)(8404,6254)(8468,6254)(8532,6254)(8596,6254)(8660,6254)(8724,6254)(8788,6254)(8852,6254)(8916,6254)(8980,6254)(9044,6254)(9108,6254)(9172,6254)(9236,6254)(9300,6254)(9364,6254)(9428,6254)(9492,6254)(9556,6254)(9620,6254)(9684,6254)(9748,6254)(9812,6254)(9872,6254)
      (48,6253)(140,6253)(200,6253)(260,6253)(320,6253)(380,6253)(440,6253)(500,6253)(560,6253)(628,6253)(708,6253)(770,6253)(830,6253)(890,6253)(950,6253)(1010,6253)(1070,6253)(1130,6253)(1190,6253)(1250,6253)(1310,6253)(1370,6253)(1430,6253)(1490,6253)(1550,6253)(1610,6253)(1670,6253)(1730,6253)(1790,6253)(1850,6253)(1908,6253)(1976,6253)(2040,6253)(2108,6253)(2180,6253)(2240,6253)(2300,6253)(2360,6253)(2420,6253)(2480,6253)(2540,6253)(2600,6253)(2660,6253)(2720,6253)(2780,6253)(2840,6253)(2900,6253)(3008,6253)(3108,6253)(3170,6253)(3230,6253)(3290,6253)(3368,6253)(3468,6253)(3530,6253)(3590,6253)(3650,6253)(3710,6253)(3770,6253)(3830,6253)(3890,6253)(3950,6253)(4010,6253)(4070,6253)(4130,6253)(4190,6253)(4250,6253)(4310,6253)(4370,6253)(4430,6253)(4490,6253)(4550,6253)(4648,6253)(4708,6253)(4788,6253)(4850,6253)(4920,6253)(4996,6253)(5060,6253)(5120,6253)(5180,6253)(5252,6253)(5364,6253)(5440,6253)(5524,6253)(5652,6253)(5740,6253)(5832,6253)(5924,6253)(5990,6253)(6060,6253)(6130,6253)(6232,6253)(6304,6253)(6370,6253)(6430,6253)(6490,6253)(6550,6253)(6610,6253)(6670,6253)(6730,6253)(6790,6253)(6850,6253)(6910,6253)(6970,6253)(7032,6253)(7132,6253)(7192,6253)(7252,6253)(7312,6253)(7372,6253)(7432,6253)(7492,6253)(7552,6253)(7612,6253)(7672,6253)(7732,6253)(7792,6253)(7852,6253)(7912,6253)(7972,6253)(8032,6253)(8092,6253)(8152,6253)(8212,6253)(8272,6253)(8332,6253)(8392,6253)(8452,6253)(8512,6253)(8612,6253)(8712,6253)(8780,6253)(8844,6253)(8940,6253)(9030,6253)(9124,6253)(9232,6253)(9300,6253)(9370,6253)(9440,6253)(9512,6253)(9604,6253)(9670,6253)(9740,6253)(9810,6253)(9872,6253)
      (56,6252)(120,6252)(190,6252)(248,6252)(348,6252)(410,6252)(470,6252)(530,6252)(590,6252)(650,6252)(710,6252)(770,6252)(830,6252)(890,6252)(950,6252)(1048,6252)(1128,6252)(1190,6252)(1250,6252)(1310,6252)(1370,6252)(1468,6252)(1528,6252)(1590,6252)(1650,6252)(1728,6252)(1828,6252)(1890,6252)(1950,6252)(2020,6252)(2100,6252)(2160,6252)(2220,6252)(2280,6252)(2340,6252)(2400,6252)(2460,6252)(2520,6252)(2588,6252)(2668,6252)(2730,6252)(2790,6252)(2850,6252)(2910,6252)(2970,6252)(3030,6252)(3090,6252)(3150,6252)(3210,6252)(3270,6252)(3330,6252)(3390,6252)(3448,6252)(3500,6252)(3580,6252)(3668,6252)(3756,6252)(3820,6252)(3880,6252)(3940,6252)(4000,6252)(4060,6252)(4148,6252)(4220,6252)(4280,6252)(4340,6252)(4400,6252)(4460,6252)(4520,6252)(4580,6252)(4640,6252)(4700,6252)(4808,6252)(4888,6252)(4950,6252)(5028,6252)(5090,6252)(5150,6252)(5210,6252)(5270,6252)(5330,6252)(5390,6252)(5450,6252)(5510,6252)(5570,6252)(5630,6252)(5690,6252)(5750,6252)(5810,6252)(5870,6252)(5930,6252)(5990,6252)(6050,6252)(6110,6252)(6170,6252)(6230,6252)(6290,6252)(6372,6252)(6432,6252)(6500,6252)(6570,6252)(6640,6252)(6710,6252)(6780,6252)(6850,6252)(6920,6252)(6992,6252)(7072,6252)(7140,6252)(7210,6252)(7280,6252)(7350,6252)(7472,6252)(7512,6252)(7580,6252)(7650,6252)(7720,6252)(7832,6252)(7932,6252)(8000,6252)(8070,6252)(8140,6252)(8210,6252)(8280,6252)(8350,6252)(8452,6252)(8524,6252)(8600,6252)(8670,6252)(8740,6252)(8832,6252)(8912,6252)(8980,6252)(9050,6252)(9120,6252)(9190,6252)(9260,6252)(9330,6252)(9400,6252)(9470,6252)(9540,6252)(9610,6252)(9680,6252)(9750,6252)(9820,6252)(9872,6252)
      (8,6251)(72,6251)(136,6251)(200,6251)(264,6251)(328,6251)(392,6251)(456,6251)(520,6251)(584,6251)(648,6251)(712,6251)(776,6251)(840,6251)(904,6251)(968,6251)(1032,6251)(1096,6251)(1160,6251)(1224,6251)(1288,6251)(1352,6251)(1416,6251)(1480,6251)(1544,6251)(1608,6251)(1672,6251)(1736,6251)(1800,6251)(1864,6251)(1928,6251)(1992,6251)(2056,6251)(2120,6251)(2184,6251)(2248,6251)(2312,6251)(2376,6251)(2440,6251)(2504,6251)(2568,6251)(2632,6251)(2696,6251)(2760,6251)(2824,6251)(2888,6251)(2952,6251)(3016,6251)(3080,6251)(3144,6251)(3208,6251)(3272,6251)(3336,6251)(3400,6251)(3464,6251)(3528,6251)(3608,6251)(3668,6251)(3732,6251)(3796,6251)(3860,6251)(3924,6251)(3988,6251)(4052,6251)(4116,6251)(4180,6251)(4244,6251)(4308,6251)(4372,6251)(4436,6251)(4500,6251)(4564,6251)(4628,6251)(4692,6251)(4756,6251)(4820,6251)(4884,6251)(4948,6251)(5012,6251)(5076,6251)(5140,6251)(5204,6251)(5268,6251)(5332,6251)(5396,6251)(5460,6251)(5524,6251)(5588,6251)(5652,6251)(5716,6251)(5780,6251)(5844,6251)(5908,6251)(5972,6251)(6036,6251)(6100,6251)(6164,6251)(6228,6251)(6292,6251)(6356,6251)(6420,6251)(6484,6251)(6548,6251)(6612,6251)(6676,6251)(6740,6251)(6804,6251)(6868,6251)(6932,6251)(6996,6251)(7060,6251)(7124,6251)(7188,6251)(7252,6251)(7316,6251)(7380,6251)(7444,6251)(7508,6251)(7572,6251)(7636,6251)(7700,6251)(7764,6251)(7828,6251)(7892,6251)(7956,6251)(8020,6251)(8084,6251)(8148,6251)(8212,6251)(8276,6251)(8340,6251)(8404,6251)(8468,6251)(8532,6251)(8596,6251)(8660,6251)(8724,6251)(8788,6251)(8852,6251)(8916,6251)(8980,6251)(9044,6251)(9108,6251)(9172,6251)(9236,6251)(9300,6251)(9364,6251)(9428,6251)(9492,6251)(9556,6251)(9620,6251)(9684,6251)(9748,6251)(9812,6251)(9872,6251)
      (8,6250)(72,6250)(136,6250)(200,6250)(264,6250)(328,6250)(392,6250)(456,6250)(520,6250)(584,6250)(648,6250)(712,6250)(776,6250)(840,6250)(904,6250)(968,6250)(1028,6250)(1156,6250)(1220,6250)(1284,6250)(1348,6250)(1412,6250)(1476,6250)(1540,6250)(1604,6250)(1668,6250)(1732,6250)(1796,6250)(1860,6250)(1924,6250)(1988,6250)(2052,6250)(2116,6250)(2180,6250)(2244,6250)(2308,6250)(2372,6250)(2436,6250)(2500,6250)(2564,6250)(2628,6250)(2692,6250)(2756,6250)(2820,6250)(2884,6250)(2948,6250)(3012,6250)(3076,6250)(3140,6250)(3204,6250)(3268,6250)(3332,6250)(3396,6250)(3460,6250)(3524,6250)(3628,6250)(3668,6250)(3730,6250)(3790,6250)(3850,6250)(3910,6250)(3970,6250)(4030,6250)(4090,6250)(4150,6250)(4208,6250)(4296,6250)(4360,6250)(4424,6250)(4488,6250)(4552,6250)(4616,6250)(4680,6250)(4744,6250)(4808,6250)(4872,6250)(4936,6250)(5028,6250)(5092,6250)(5180,6250)(5244,6250)(5308,6250)(5372,6250)(5436,6250)(5500,6250)(5564,6250)(5628,6250)(5692,6250)(5756,6250)(5820,6250)(5884,6250)(5948,6250)(6012,6250)(6076,6250)(6140,6250)(6204,6250)(6268,6250)(6332,6250)(6396,6250)(6460,6250)(6524,6250)(6588,6250)(6652,6250)(6716,6250)(6780,6250)(6844,6250)(6908,6250)(6972,6250)(7036,6250)(7100,6250)(7164,6250)(7228,6250)(7292,6250)(7356,6250)(7420,6250)(7484,6250)(7548,6250)(7612,6250)(7676,6250)(7740,6250)(7804,6250)(7868,6250)(7972,6250)(8032,6250)(8112,6250)(8204,6250)(8268,6250)(8332,6250)(8396,6250)(8460,6250)(8524,6250)(8588,6250)(8652,6250)(8716,6250)(8780,6250)(8844,6250)(8908,6250)(8972,6250)(9036,6250)(9100,6250)(9164,6250)(9228,6250)(9292,6250)(9356,6250)(9420,6250)(9484,6250)(9548,6250)(9612,6250)(9676,6250)(9740,6250)(9804,6250)(9860,6250)
      (20,6249)(84,6249)(148,6249)(212,6249)(276,6249)(340,6249)(428,6249)(528,6249)(590,6249)(650,6249)(710,6249)(770,6249)(830,6249)(890,6249)(950,6249)(1010,6249)(1070,6249)(1130,6249)(1190,6249)(1250,6249)(1310,6249)(1370,6249)(1430,6249)(1490,6249)(1550,6249)(1610,6249)(1670,6249)(1730,6249)(1790,6249)(1850,6249)(1910,6249)(2028,6249)(2116,6249)(2180,6249)(2240,6249)(2300,6249)(2360,6249)(2420,6249)(2480,6249)(2540,6249)(2600,6249)(2660,6249)(2720,6249)(2780,6249)(2840,6249)(2900,6249)(2960,6249)(3020,6249)(3148,6249)(3248,6249)(3310,6249)(3370,6249)(3430,6249)(3528,6249)(3640,6249)(3708,6249)(3770,6249)(3830,6249)(3890,6249)(3950,6249)(4010,6249)(4070,6249)(4130,6249)(4190,6249)(4250,6249)(4310,6249)(4370,6249)(4430,6249)(4490,6249)(4550,6249)(4610,6249)(4670,6249)(4730,6249)(4790,6249)(4850,6249)(4910,6249)(4970,6249)(5028,6249)(5090,6249)(5150,6249)(5210,6249)(5270,6249)(5330,6249)(5390,6249)(5450,6249)(5510,6249)(5570,6249)(5630,6249)(5690,6249)(5750,6249)(5810,6249)(5870,6249)(5930,6249)(5990,6249)(6050,6249)(6110,6249)(6170,6249)(6230,6249)(6290,6249)(6350,6249)(6410,6249)(6470,6249)(6530,6249)(6590,6249)(6650,6249)(6710,6249)(6770,6249)(6830,6249)(6890,6249)(6950,6249)(7010,6249)(7070,6249)(7130,6249)(7190,6249)(7250,6249)(7310,6249)(7370,6249)(7430,6249)(7532,6249)(7620,6249)(7680,6249)(7740,6249)(7800,6249)(7860,6249)(7920,6249)(7980,6249)(8040,6249)(8100,6249)(8160,6249)(8220,6249)(8280,6249)(8340,6249)(8400,6249)(8460,6249)(8520,6249)(8580,6249)(8640,6249)(8700,6249)(8760,6249)(8820,6249)(8880,6249)(8940,6249)(9000,6249)(9060,6249)(9120,6249)(9180,6249)(9240,6249)(9300,6249)(9360,6249)(9420,6249)(9480,6249)(9540,6249)(9600,6249)(9660,6249)(9720,6249)(9812,6249)
      (40,6248)(120,6248)(212,6248)(248,6248)(356,6248)(430,6248)(500,6248)(570,6248)(640,6248)(688,6248)(808,6248)(940,6248)(1010,6248)(1070,6248)(1128,6248)(1208,6248)(1280,6248)(1350,6248)(1428,6248)(1508,6248)(1570,6248)(1630,6248)(1690,6248)(1750,6248)(1828,6248)(2020,6248)(2180,6248)(2228,6248)(2308,6248)(2400,6248)(2488,6248)(2560,6248)(2636,6248)(2700,6248)(2760,6248)(2820,6248)(2880,6248)(2940,6248)(3000,6248)(3060,6248)(3120,6248)(3180,6248)(3288,6248)(3380,6248)(3450,6248)(3520,6248)(3590,6248)(3708,6248)(3800,6248)(3860,6248)(3920,6248)(3980,6248)(4040,6248)(4100,6248)(4160,6248)(4220,6248)(4280,6248)(4340,6248)(4400,6248)(4460,6248)(4520,6248)(4580,6248)(4640,6248)(4700,6248)(4760,6248)(4820,6248)(4880,6248)(4940,6248)(5028,6248)(5090,6248)(5150,6248)(5210,6248)(5270,6248)(5330,6248)(5390,6248)(5450,6248)(5552,6248)(5612,6248)(5680,6248)(5750,6248)(5820,6248)(5932,6248)(6032,6248)(6164,6248)(6230,6248)(6300,6248)(6370,6248)(6440,6248)(6572,6248)(6652,6248)(6752,6248)(6820,6248)(6890,6248)(6960,6248)(7030,6248)(7100,6248)(7170,6248)(7292,6248)(7340,6248)(7410,6248)(7480,6248)(7550,6248)(7652,6248)(7724,6248)(7800,6248)(7870,6248)(7952,6248)(8100,6248)(8170,6248)(8240,6248)(8310,6248)(8380,6248)(8450,6248)(8520,6248)(8590,6248)(8660,6248)(8792,6248)(8844,6248)(8932,6248)(9010,6248)(9092,6248)(9232,6248)(9300,6248)(9370,6248)(9440,6248)(9510,6248)(9580,6248)(9650,6248)(9720,6248)(9790,6248)(9852,6248)
      (8,6247)(68,6247)(168,6247)(232,6247)(296,6247)(360,6247)(424,6247)(488,6247)(552,6247)(616,6247)(680,6247)(744,6247)(808,6247)(872,6247)(936,6247)(1000,6247)(1064,6247)(1168,6247)(1248,6247)(1312,6247)(1376,6247)(1440,6247)(1504,6247)(1568,6247)(1632,6247)(1696,6247)(1760,6247)(1824,6247)(1888,6247)(1952,6247)(2016,6247)(2080,6247)(2144,6247)(2208,6247)(2272,6247)(2336,6247)(2400,6247)(2464,6247)(2528,6247)(2592,6247)(2656,6247)(2728,6247)(2780,6247)(2844,6247)(2908,6247)(2972,6247)(3036,6247)(3100,6247)(3164,6247)(3228,6247)(3292,6247)(3356,6247)(3420,6247)(3484,6247)(3548,6247)(3612,6247)(3676,6247)(3740,6247)(3804,6247)(3868,6247)(3932,6247)(3996,6247)(4060,6247)(4124,6247)(4188,6247)(4252,6247)(4316,6247)(4380,6247)(4444,6247)(4508,6247)(4572,6247)(4636,6247)(4700,6247)(4764,6247)(4828,6247)(4892,6247)(4956,6247)(5020,6247)(5084,6247)(5148,6247)(5212,6247)(5276,6247)(5340,6247)(5404,6247)(5468,6247)(5532,6247)(5596,6247)(5660,6247)(5724,6247)(5788,6247)(5852,6247)(5916,6247)(5980,6247)(6044,6247)(6108,6247)(6172,6247)(6236,6247)(6300,6247)(6364,6247)(6428,6247)(6492,6247)(6556,6247)(6620,6247)(6684,6247)(6748,6247)(6812,6247)(6876,6247)(6940,6247)(7004,6247)(7068,6247)(7132,6247)(7196,6247)(7260,6247)(7324,6247)(7388,6247)(7452,6247)(7516,6247)(7580,6247)(7692,6247)(7780,6247)(7872,6247)(7932,6247)(7996,6247)(8060,6247)(8124,6247)(8188,6247)(8252,6247)(8316,6247)(8380,6247)(8444,6247)(8508,6247)(8572,6247)(8636,6247)(8700,6247)(8764,6247)(8828,6247)(8892,6247)(8956,6247)(9020,6247)(9084,6247)(9148,6247)(9212,6247)(9276,6247)(9340,6247)(9404,6247)(9468,6247)(9532,6247)(9596,6247)(9660,6247)(9724,6247)(9792,6247)(9860,6247)
      (108,6245)(148,6245)(248,6245)(328,6245)(368,6245)(450,6245)(528,6245)(588,6245)(648,6245)(708,6245)(808,6245)(888,6245)(1076,6245)(1140,6245)(1210,6245)(1280,6245)(1350,6245)(1420,6245)(1528,6245)(1648,6245)(1720,6245)(1790,6245)(1860,6245)(1928,6245)(2036,6245)(2180,6245)(2250,6245)(2328,6245)(2388,6245)(2450,6245)(2520,6245)(2590,6245)(2660,6245)(2748,6245)(2828,6245)(2928,6245)(2996,6245)(3060,6245)(3120,6245)(3180,6245)(3240,6245)(3300,6245)(3360,6245)(3420,6245)(3480,6245)(3540,6245)(3600,6245)(3660,6245)(3720,6245)(3780,6245)(3848,6245)(3980,6245)(4060,6245)(4148,6245)(4220,6245)(4280,6245)(4340,6245)(4400,6245)(4460,6245)(4520,6245)(4580,6245)(4640,6245)(4700,6245)(4760,6245)(4828,6245)(4888,6245)(4950,6245)(5028,6245)(5090,6245)(5150,6245)(5210,6245)(5270,6245)(5330,6245)(5390,6245)(5492,6245)(5532,6245)(5600,6245)(5660,6245)(5712,6245)(5764,6245)(5830,6245)(5900,6245)(5970,6245)(6040,6245)(6110,6245)(6232,6245)(6352,6245)(6420,6245)(6490,6245)(6560,6245)(6630,6245)(6712,6245)(6752,6245)(6820,6245)(6890,6245)(6960,6245)(7030,6245)(7100,6245)(7170,6245)(7240,6245)(7310,6245)(7380,6245)(7452,6245)(7552,6245)(7620,6245)(7690,6245)(7772,6245)(7992,6245)(8072,6245)(8164,6245)(8230,6245)(8300,6245)(8370,6245)(8440,6245)(8510,6245)(8580,6245)(8650,6245)(8712,6245)(8832,6245)(8900,6245)(8970,6245)(9040,6245)(9110,6245)(9180,6245)(9250,6245)(9320,6245)(9390,6245)(9460,6245)(9530,6245)(9612,6245)(9684,6245)(9752,6245)(9832,6245)
      (8,6244)(68,6244)(108,6244)(168,6244)(244,6244)(436,6244)(556,6244)(628,6244)(700,6244)(770,6244)(828,6244)(940,6244)(1048,6244)(1100,6244)(1148,6244)(1368,6244)(1428,6244)(1496,6244)(1708,6244)(1888,6244)(1948,6244)(2080,6244)(2228,6244)(2300,6244)(2370,6244)(2428,6244)(2488,6244)(2628,6244)(2688,6244)(2750,6244)(2820,6244)(2888,6244)(3072,6244)(3308,6244)(3368,6244)(3468,6244)(3548,6244)(3608,6244)(3668,6244)(3860,6244)(3930,6244)(3988,6244)(4140,6244)(4210,6244)(4280,6244)(4350,6244)(4420,6244)(4490,6244)(4560,6244)(4630,6244)(4700,6244)(4770,6244)(4840,6244)(4910,6244)(4968,6244)(5052,6244)(5192,6244)(5260,6244)(5330,6244)(5400,6244)(5470,6244)(5540,6244)(5610,6244)(5672,6244)(5772,6244)(5832,6244)(5924,6244)(5980,6244)(6084,6244)(6232,6244)(6300,6244)(6380,6244)(6420,6244)(6490,6244)(6550,6244)(6612,6244)(6680,6244)(6772,6244)(6840,6244)(6910,6244)(6972,6244)(7092,6244)(7272,6244)(7392,6244)(7452,6244)(7552,6244)(7610,6244)(7672,6244)(7732,6244)(7804,6244)(7870,6244)(7940,6244)(8012,6244)(8132,6244)(8172,6244)(8300,6244)(8424,6244)(8512,6244)(8580,6244)(8650,6244)(8720,6244)(8790,6244)(8860,6244)(8930,6244)(8972,6244)(9072,6244)(9160,6244)(9280,6244)(9392,6244)(9524,6244)(9652,6244)(9700,6244)(9828,6244)
      (28,6243)(80,6243)(128,6243)(288,6243)(348,6243)(428,6243)(508,6243)(548,6243)(748,6243)(810,6243)(868,6243)(996,6243)(1050,6243)(1108,6243)(1248,6243)(1356,6243)(1440,6243)(1528,6243)(1608,6243)(1680,6243)(1780,6243)(1888,6243)(1960,6243)(2028,6243)(2108,6243)(2170,6243)(2230,6243)(2288,6243)(2328,6243)(2428,6243)(2476,6243)(2548,6243)(2620,6243)(2690,6243)(2770,6243)(2848,6243)(2980,6243)(3050,6243)(3120,6243)(3190,6243)(3260,6243)(3330,6243)(3400,6243)(3470,6243)(3540,6243)(3608,6243)(3648,6243)(3748,6243)(3888,6243)(3990,6243)(4108,6243)(4188,6243)(4248,6243)(4308,6243)(4370,6243)(4440,6243)(4510,6243)(4580,6243)(4650,6243)(4720,6243)(4790,6243)(4868,6243)(4888,6243)(4960,6243)(5030,6243)(5100,6243)(5170,6243)(5240,6243)(5310,6243)(5352,6243)(5432,6243)(5500,6243)(5570,6243)(5640,6243)(5710,6243)(5780,6243)(5850,6243)(5920,6243)(5990,6243)(6060,6243)(6130,6243)(6200,6243)(6272,6243)(6352,6243)(6420,6243)(6490,6243)(6552,6243)(6652,6243)(6720,6243)(6790,6243)(6860,6243)(6930,6243)(7000,6243)(7070,6243)(7140,6243)(7210,6243)(7280,6243)(7350,6243)(7420,6243)(7490,6243)(7552,6243)(7692,6243)(7772,6243)(7840,6243)(7910,6243)(7980,6243)(8050,6243)(8120,6243)(8190,6243)(8260,6243)(8330,6243)(8400,6243)(8470,6243)(8540,6243)(8610,6243)(8680,6243)(8750,6243)(8820,6243)(8890,6243)(8960,6243)(9030,6243)(9100,6243)(9170,6243)(9240,6243)(9310,6243)(9380,6243)(9450,6243)(9552,6243)(9632,6243)(9700,6243)(9770,6243)(9852,6243)
    };
  \end{axis}
\end{tikzpicture}
\end{document}
